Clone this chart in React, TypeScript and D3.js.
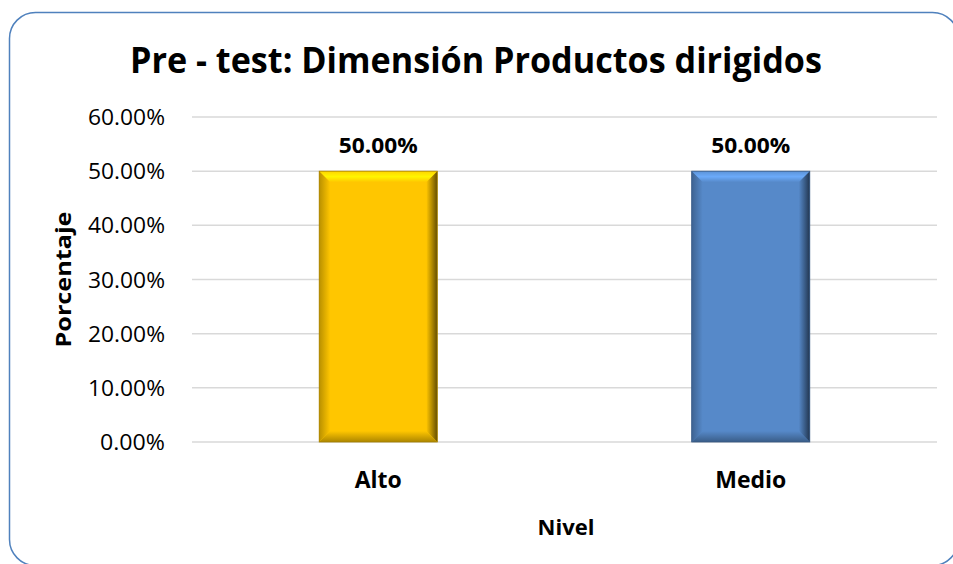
import React from "react";
import * as d3 from "d3";

const categories = ["Alto", "Medio"];
const values = [0.5, 0.5];
const colors = ["#FFC600", "#5689C9"];
const yTicks = [0, 0.1, 0.2, 0.3, 0.4, 0.5, 0.6];

const W = 953, H = 564;
const plot = { left: 192, right: 937, top: 117, bottom: 442 };
const FONT = "'Open Sans', 'Liberation Sans', sans-serif";

export default function App() {
  const x = d3.scaleBand().domain(categories).range([plot.left, plot.right]).paddingInner(0.683).paddingOuter(0.3415);
  const y = d3.scaleLinear().domain([0, 0.6]).range([plot.bottom, plot.top]);
  const fmt = (v: number) => (v * 100).toFixed(2) + "%";
  const b = 11;
  return (
    <svg width={W} height={H} style={{ position: "absolute", left: 0, top: 0 }} fontFamily={FONT}>
      <rect x={9.5} y={12.5} width={949} height={553} rx={26} ry={26} fill="#fff" stroke="#4F81BD" strokeWidth={1.5} />
      <text x={476} y={73} textAnchor="middle" fontSize={35} fontWeight="bold" fill="#000" textLength={692} lengthAdjust="spacingAndGlyphs">
        Pre - test: Dimensión Productos dirigidos
      </text>
      {yTicks.map((t) => (
        <g key={t}>
          <line x1={plot.left} x2={plot.right} y1={y(t)} y2={y(t)} stroke="#D9D9D9" strokeWidth={1.5} />
          <text x={165} y={y(t) + 8} textAnchor="end" fontSize={21} fill="#000" textLength={t === 0 ? 65 : 77} lengthAdjust="spacingAndGlyphs">{fmt(t)}</text>
        </g>
      ))}
      {categories.map((c, i) => {
        const x0 = x(c)!, x1 = x0 + x.bandwidth();
        const y0 = y(values[i]), y1 = y(0);
        const base = d3.color(colors[i])!;
        const bs = base.toString();
        return (
          <g key={c}>
            <defs>
              <linearGradient id={`tg${i}`} x1="0" x2="0" y1="0" y2="1">
                <stop offset="0" stopColor={base.brighter(0.2).toString()} />
                <stop offset="0.5" stopColor={base.brighter(0.6).toString()} />
                <stop offset="1" stopColor={bs} />
              </linearGradient>
              <linearGradient id={`rg${i}`} x1="0" x2="1" y1="0" y2="0">
                <stop offset="0" stopColor={bs} />
                <stop offset="0.5" stopColor={base.darker(1).toString()} />
                <stop offset="1" stopColor={base.darker(2.6).toString()} />
              </linearGradient>
              <linearGradient id={`bg${i}`} x1="0" x2="0" y1="0" y2="1">
                <stop offset="0" stopColor={bs} />
                <stop offset="1" stopColor={base.darker(1.1).toString()} />
              </linearGradient>
              <linearGradient id={`lg${i}`} x1="0" x2="1" y1="0" y2="0">
                <stop offset="0" stopColor={base.darker(0.9).toString()} />
                <stop offset="1" stopColor={bs} />
              </linearGradient>
            </defs>
            <rect x={x0} y={y0} width={x1 - x0} height={y1 - y0} fill={bs} />
            <polygon points={`${x0},${y0} ${x1},${y0} ${x1 - b},${y0 + b} ${x0 + b},${y0 + b}`} fill={`url(#tg${i})`} />
            <polygon points={`${x1},${y0} ${x1},${y1} ${x1 - b},${y1 - b} ${x1 - b},${y0 + b}`} fill={`url(#rg${i})`} />
            <polygon points={`${x0},${y1} ${x1},${y1} ${x1 - b},${y1 - b} ${x0 + b},${y1 - b}`} fill={`url(#bg${i})`} />
            <polygon points={`${x0},${y0} ${x0 + b},${y0 + b} ${x0 + b},${y1 - b} ${x0},${y1}`} fill={`url(#lg${i})`} />
            <rect x={x0} y={y0} width={x1 - x0} height={y1 - y0} fill="none" stroke={base.darker(1.2).toString()} strokeWidth={0.8} />
            <text x={(x0 + x1) / 2} y={y0 - 18} textAnchor="middle" fontSize={21} fontWeight="bold" fill="#000" textLength={79} lengthAdjust="spacingAndGlyphs">{fmt(values[i])}</text>
            <text x={(x0 + x1) / 2} y={488} textAnchor="middle" fontSize={23} fontWeight="bold" fill="#000">{c}</text>
          </g>
        );
      })}
      <text x={566} y={535} textAnchor="middle" fontSize={22} fontWeight="bold" fill="#000">Nivel</text>
      <text transform={`translate(71,${(plot.top + plot.bottom) / 2}) rotate(-90)`} textAnchor="middle" fontSize={22} fontWeight="bold" fill="#000" textLength={136} lengthAdjust="spacingAndGlyphs">Porcentaje</text>
    </svg>
  );
}
